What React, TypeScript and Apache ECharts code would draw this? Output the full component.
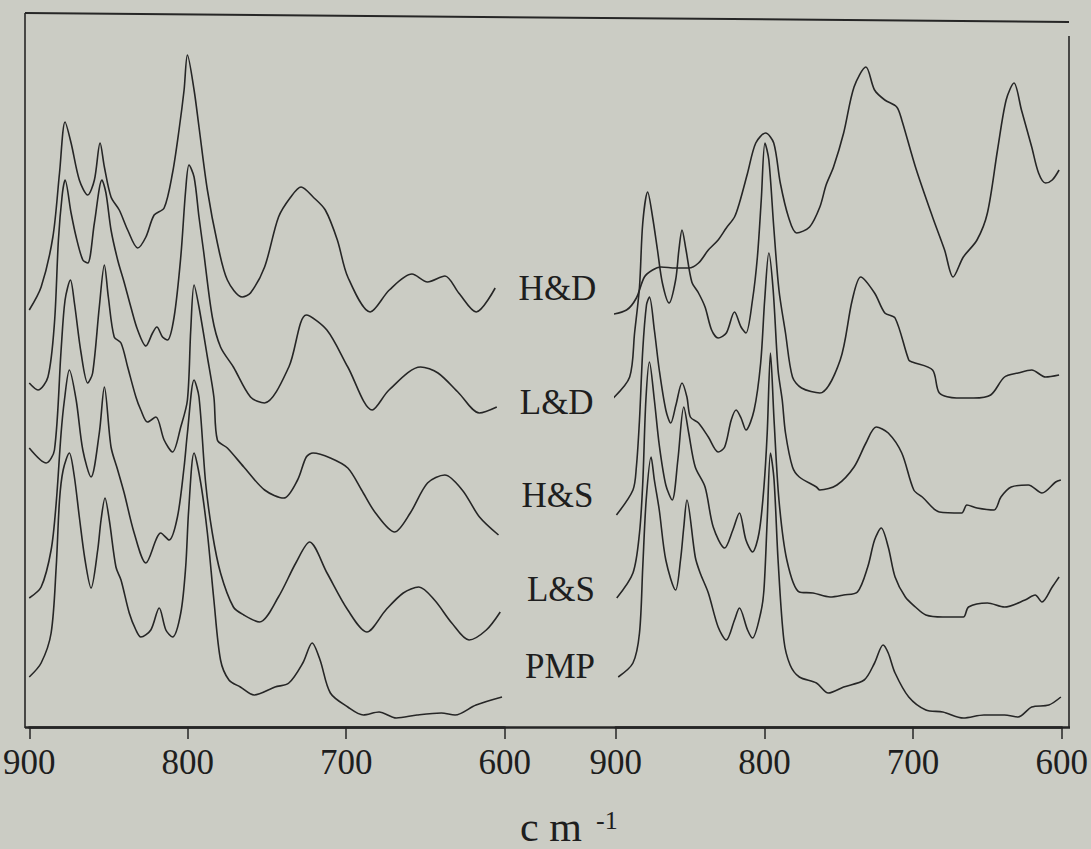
import React, { useEffect, useRef } from 'react';
import * as echarts from 'echarts';

type Pt = [number, number];

// Sample names, drawn between the two panels
const sampleNames = ['H&D', 'L&D', 'H&S', 'L&S', 'PMP'];
// Wavenumber ticks (cm-1)
const tickValues = [900, 800, 700, 600];

// Left panel: [wavenumber, stacked intensity]
const leftHD: Pt[] = [
  [900, 417], [892.5, 440], [885.1, 490], [880.9, 554], [877.4, 605], [873.6, 584], [868.4, 547],
  [863.1, 532], [858.9, 547], [855.3, 584], [852.6, 560], [848.4, 530], [843.2, 517], [837.9, 497],
  [831.6, 479], [826.4, 490], [821.2, 512], [814.9, 519], [809.6, 554], [805.5, 597], [802.3, 637],
  [800.2, 672], [796, 637], [792.9, 600], [787.6, 537], [781.3, 484], [775, 447], [765.6, 430],
  [760.4, 434], [751.5, 460], [742.7, 510], [735, 530], [728.5, 540], [720.9, 530], [713.2, 517],
  [705.6, 487], [699, 450], [684.9, 415], [672.8, 437], [658.5, 453], [648.7, 445], [637.7, 451],
  [629, 434], [618, 415], [606, 439],
];
const leftLD: Pt[] = [
  [900, 344], [894.5, 337], [888.2, 350], [884.1, 404], [881.6, 487], [879.2, 532], [877.4, 547],
  [873.6, 514], [870.4, 490], [866.2, 467], [863.1, 464], [858.9, 504], [854.1, 547], [851.6, 534],
  [848.4, 497], [844.2, 467], [840, 444], [835.9, 420], [831.6, 397], [826.4, 381], [822.2, 394],
  [819.5, 400], [815.9, 390], [812.8, 387], [808.6, 410], [804.4, 470], [801.3, 537], [799.2, 562],
  [796, 550], [792.9, 510], [790.1, 477], [784.5, 410], [779.3, 380], [771.2, 360], [760.4, 330],
  [751.6, 324], [736.2, 360], [725.2, 412], [712.2, 397], [699, 360], [683.6, 317], [673, 337],
  [653.1, 360], [642.1, 354], [629, 334], [616, 314], [605, 320],
];
const leftHS: Pt[] = [
  [900, 279], [889.3, 264], [884.1, 277], [879.9, 377], [877.4, 427], [874, 447], [871.5, 424],
  [867.3, 374], [863.1, 344], [860, 354], [855.8, 420], [852.6, 462], [850.1, 430], [846.4, 390],
  [842.1, 384], [837.9, 360], [832.7, 330], [829.6, 317], [825.4, 305], [820.1, 310], [814.9, 287],
  [809.6, 275], [804.4, 300], [800.2, 327], [798.1, 397], [796, 442], [792.9, 420], [787.6, 370],
  [783.5, 330], [781.3, 287], [775, 279], [764.6, 260], [751.5, 237], [739.4, 229], [730.7, 247],
  [725.2, 270], [720.9, 274], [710, 269], [699, 259], [690.3, 237], [681.5, 214], [669.5, 195],
  [659.6, 214], [648.7, 244], [637.8, 252], [626.8, 237], [615.9, 210], [603.9, 192],
];
const leftLS: Pt[] = [
  [900, 129], [892.5, 140], [886.2, 177], [883, 224], [879.9, 294], [877.8, 327], [874.7, 357],
  [870.4, 327], [866.2, 277], [861, 250], [855.8, 294], [852.6, 340], [848.4, 280], [844.2, 257],
  [840.1, 234], [833.8, 194], [826.4, 164], [817, 194], [811.8, 187], [806.5, 210], [802.3, 260],
  [800.2, 294], [796, 347], [792.9, 330], [788.7, 244], [784.5, 194], [779.3, 154], [771.2, 120],
  [764.6, 112], [754.7, 105], [742.8, 130], [731.8, 164], [723.1, 185], [712.1, 154], [699, 117],
  [687, 95], [675, 117], [664, 134], [654.2, 140], [644.3, 127], [633.4, 104], [622.5, 87],
  [611.6, 97], [602.8, 115],
];
const leftPMP: Pt[] = [
  [900, 50], [892.5, 64], [886.2, 94], [883, 160], [880.9, 227], [878.6, 257], [874.7, 274],
  [871.7, 252], [868.4, 210], [864.8, 167], [861, 139], [856.8, 177], [854.7, 207], [852.2, 229],
  [849.5, 207], [845.3, 160], [842.1, 147], [836.9, 114], [832.7, 97], [829.6, 90], [823.3, 97],
  [818, 119], [813.8, 97], [809.6, 90], [804.4, 114], [801.3, 160], [799.4, 217], [796, 274],
  [791.8, 244], [787.6, 194], [783.5, 127], [779.3, 67], [774, 47], [766.8, 40], [758.1, 32],
  [744.9, 40], [736.2, 44], [727.4, 64], [721.5, 84], [716.5, 67], [710, 34], [699, 20],
  [689.2, 12], [679.3, 15], [668.4, 9], [655.3, 12], [640, 14], [631.3, 12], [618.1, 22], [601.7, 30],
];

// Right panel: [wavenumber, stacked intensity]
const rightHD: Pt[] = [
  [904.9, 412], [892.7, 417], [886.1, 429], [880.7, 450], [875.2, 457], [869.6, 460], [859.7, 459],
  [850.9, 459], [844.3, 464], [837.7, 477], [831.1, 487], [825.6, 499], [820.1, 510], [816.8, 524],
  [811.3, 554], [805.8, 584], [799.2, 594], [793.7, 584], [789.3, 544], [783.8, 510], [778.3, 494],
  [769.6, 500], [762.7, 520], [758.5, 542], [753.5, 560], [746.7, 594], [739.7, 640], [731.7, 660],
  [725.9, 637], [719, 627], [711, 620], [707.6, 607], [698.4, 560], [686.9, 510], [678.8, 477],
  [673.1, 450], [666.2, 470], [657, 487], [650, 514], [643.2, 577], [637.4, 627], [632.1, 644],
  [627.1, 617], [620.2, 580], [615.6, 554], [610.9, 544], [606.4, 547], [601.8, 557],
];
const rightLD: Pt[] = [
  [901.6, 329], [890.6, 350], [887.3, 394], [884, 440], [881.8, 504], [878.5, 535], [875.2, 510],
  [871.9, 477], [868.6, 444], [864.1, 424], [859.7, 447], [857.5, 477], [855.4, 497], [852.7, 477],
  [848.8, 445], [844.3, 434], [839.9, 420], [835.5, 397], [831.1, 389], [825.6, 394], [820.1, 415],
  [815.7, 400], [812.4, 394], [808, 427], [804.7, 470], [802.1, 527], [799.6, 584], [797, 567],
  [793.7, 500], [790.2, 437], [785.8, 394], [781.1, 350], [775, 339], [762.7, 334], [749, 367],
  [740.9, 427], [735.2, 450], [725.9, 434], [719, 414], [712.1, 409], [702.9, 367], [700.6, 365],
  [686.9, 357], [682.3, 334], [670.8, 329], [659.3, 329], [647.8, 332], [638.5, 350], [629.4, 354],
  [620.2, 357], [610.9, 350], [601.8, 352],
];
const rightHS: Pt[] = [
  [899.5, 212], [888.4, 237], [886.1, 260], [884, 307], [881.8, 377], [879.3, 422], [877.3, 430],
  [874, 397], [870.7, 357], [866.3, 317], [863, 304], [859.5, 322], [855.4, 344], [852.1, 330],
  [849.8, 310], [844.3, 304], [837.7, 290], [831.1, 275], [826.7, 280], [822.3, 307], [819, 317],
  [815.7, 309], [812.4, 297], [806.9, 317], [802.5, 364], [799.8, 427], [797, 474], [794.1, 437],
  [790.8, 357], [788, 327], [785.8, 294], [781.1, 260], [776.5, 250], [765, 240], [762.7, 237],
  [751.2, 242], [739.7, 260], [731.7, 284], [724.8, 300], [716.7, 294], [707.6, 274], [699.5, 237],
  [693.8, 230], [682.3, 215], [667.3, 214], [663.8, 222], [657, 219], [645.5, 217], [640.9, 230],
  [634, 240], [622.5, 242], [613.3, 234], [604.1, 245], [600.6, 247],
];
const rightLS: Pt[] = [
  [899.3, 129], [888.4, 154], [884, 194], [881.8, 244], [879.7, 327], [877.3, 365], [874, 327],
  [870.7, 282], [866.3, 242], [862, 227], [858.2, 267], [854.2, 320], [850.9, 294], [846.5, 260],
  [839.9, 240], [834.4, 200], [826.7, 179], [821.2, 197], [816.8, 214], [812.4, 187], [808, 175],
  [803.6, 194], [800.3, 240], [798.1, 294], [795.9, 374], [793.5, 307], [790.2, 227], [784.9, 167],
  [776.5, 135], [767.3, 134], [755.8, 130], [746.7, 132], [737.4, 135], [730.5, 160], [725.9, 187],
  [721.4, 199], [716.7, 180], [712.1, 150], [705.2, 130], [698.4, 120], [691.4, 112], [680, 110],
  [666.2, 110], [662.7, 120], [650, 124], [638.5, 120], [624.7, 127], [617.9, 132], [613.3, 125],
  [606.4, 140], [601.8, 150],
];
const rightPMP: Pt[] = [
  [898.3, 50], [888.4, 64], [884, 94], [881.8, 160], [879.5, 227], [876.2, 270], [874, 247],
  [870.7, 217], [866.3, 167], [859.7, 137], [856.4, 167], [854.2, 200], [852.1, 227], [846.5, 170],
  [843.2, 154], [837.7, 134], [831.1, 100], [825.6, 87], [820.1, 107], [816.8, 119], [811.3, 97],
  [808, 89], [802.5, 114], [800.3, 137], [798.1, 207], [795.9, 274], [793.5, 247], [790.8, 167],
  [786.9, 87], [782.7, 62], [776.5, 50], [765, 44], [757, 34], [746.7, 40], [732.9, 47],
  [725.9, 64], [720.2, 82], [716.7, 74], [712.1, 54], [702.9, 30], [691.4, 17], [680, 15],
  [666.2, 9], [652.3, 12], [638.5, 12], [629.4, 10], [620.2, 20], [608.7, 22], [600.6, 30],
];

const leftSpectra = [leftHD, leftLD, leftHS, leftLS, leftPMP];
const rightSpectra = [rightHD, rightLD, rightHS, rightLS, rightPMP];

const INK = '#262626';
const SERIF = '"Liberation Serif", "Times New Roman", serif';

export default function App() {
  const ref = useRef<HTMLDivElement>(null);

  useEffect(() => {
    if (!ref.current) return;
    const chart = echarts.init(ref.current, undefined, { renderer: 'svg' });

    const xAxisBase = {
      type: 'value' as const,
      min: tickValues[tickValues.length - 1],
      max: tickValues[0],
      interval: 100,
      inverse: true,
      axisLine: { show: true, lineStyle: { color: INK, width: 2.5 } },
      axisTick: { show: true, inside: false, length: 12, lineStyle: { color: INK, width: 1.5 } },
      axisLabel: { fontFamily: SERIF, fontSize: 35, color: '#1e1e1e', margin: 18 },
      splitLine: { show: false },
    };
    const yAxisBase = {
      type: 'value' as const,
      min: 0,
      max: 714,
      show: false,
      splitLine: { show: false },
    };

    const makeSeries = (data: Pt[], name: string, axisIndex: number) => ({
      type: 'line' as const,
      name,
      data,
      xAxisIndex: axisIndex,
      yAxisIndex: axisIndex,
      showSymbol: false,
      symbol: 'none',
      smooth: 0.3,
      clip: false,
      lineStyle: { color: INK, width: 1.6 },
      silent: true,
    });

    const labelPos: [number, number][] = [
      [557.5, 288], [556.7, 402], [557.5, 495], [561, 589], [560, 666],
    ];

    chart.setOption({
      animation: false,
      backgroundColor: '#cbccc4',
      grid: [
        { left: 28, top: 13, width: 476.7, height: 714 },
        { left: 615.7, top: 13, width: 454.3, height: 714 },
      ],
      xAxis: [
        { ...xAxisBase, gridIndex: 0 },
        { ...xAxisBase, gridIndex: 1 },
      ],
      yAxis: [
        { ...yAxisBase, gridIndex: 0 },
        { ...yAxisBase, gridIndex: 1 },
      ],
      series: [
        ...leftSpectra.map((d, i) => makeSeries(d, sampleNames[i], 0)),
        ...rightSpectra.map((d, i) => makeSeries(d, sampleNames[i], 1)),
      ],
      graphic: [
        // outer frame
        { type: 'line', shape: { x1: 25, y1: 13, x2: 1069, y2: 22 }, style: { stroke: INK, lineWidth: 2 } },
        { type: 'line', shape: { x1: 25, y1: 13, x2: 25, y2: 728 }, style: { stroke: INK, lineWidth: 1.6 } },
        { type: 'line', shape: { x1: 1069, y1: 36, x2: 1069, y2: 728 }, style: { stroke: INK, lineWidth: 1.6 } },
        { type: 'line', shape: { x1: 25, y1: 727.5, x2: 1070, y2: 727.5 }, style: { stroke: INK, lineWidth: 2.5 } },
        ...sampleNames.map((n, i) => ({
          type: 'text',
          x: labelPos[i][0],
          y: labelPos[i][1],
          style: {
            text: n,
            font: `35px ${SERIF}`,
            fill: '#1e1e1e',
            textAlign: 'center',
            textVerticalAlign: 'middle',
          },
        })),
        // axis unit
        {
          type: 'text', x: 520, y: 848,
          style: { text: 'c m', font: `42px ${SERIF}`, fill: '#1e1e1e', textAlign: 'left', textVerticalAlign: 'bottom' },
        },
        {
          type: 'text', x: 596, y: 820,
          style: { text: '-1', font: `26px ${SERIF}`, fill: '#1e1e1e', textAlign: 'left', textVerticalAlign: 'middle' },
        },
      ],
    });

    return () => chart.dispose();
  }, []);

  return (
    <div
      ref={ref}
      style={{ position: 'fixed', left: 0, top: 0, width: 1091, height: 849 }}
    />
  );
}
